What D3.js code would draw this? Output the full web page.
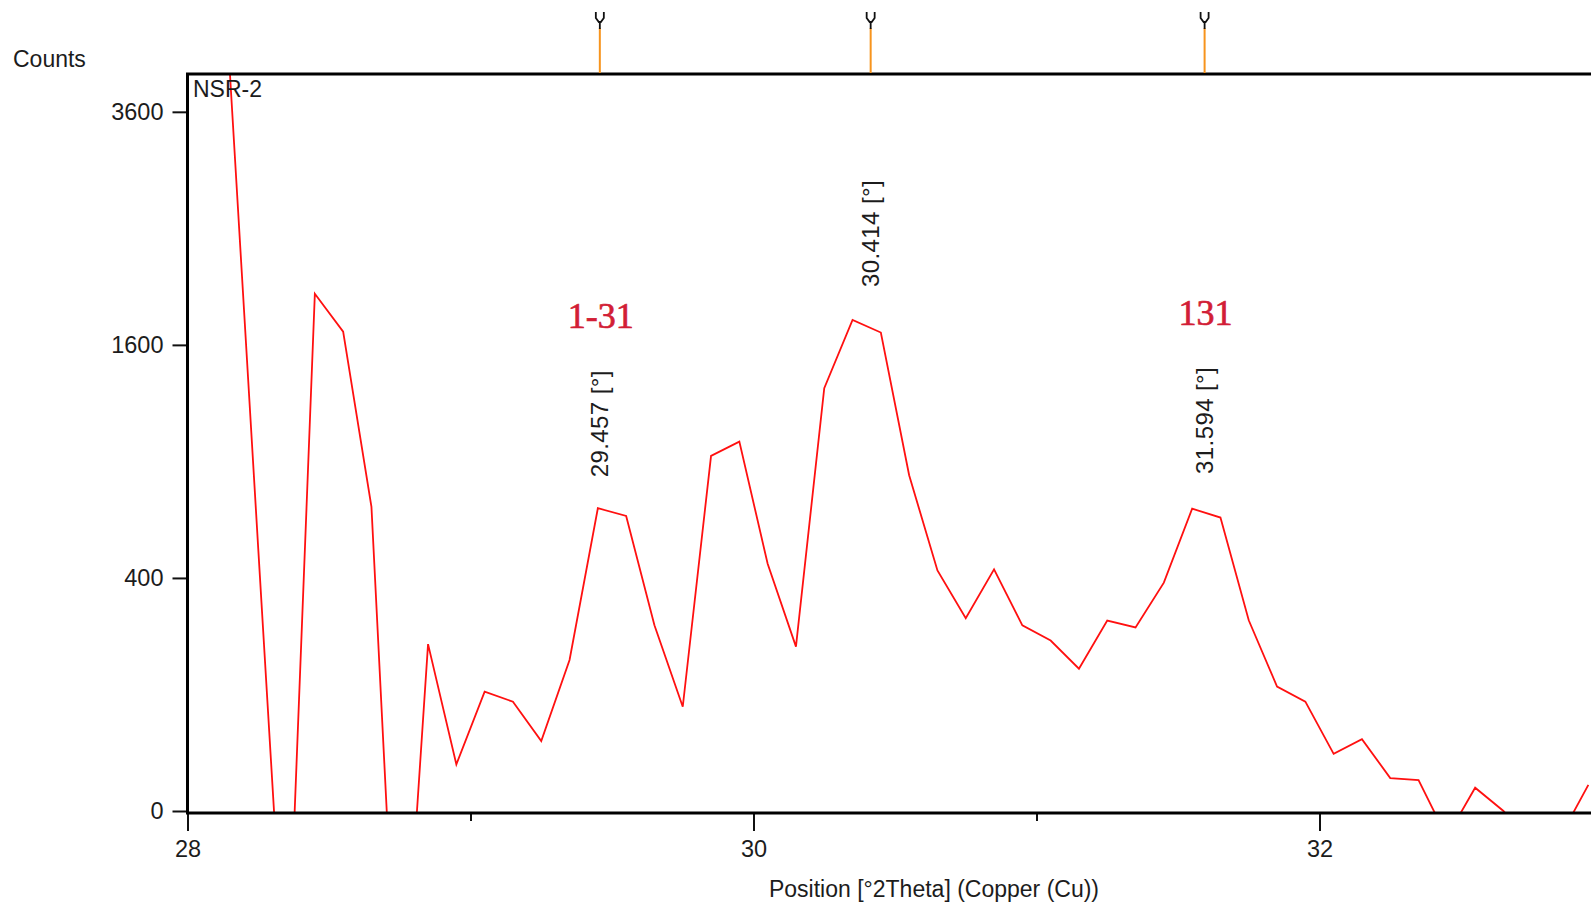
<!DOCTYPE html>
<html>
<head>
<meta charset="utf-8">
<script src="https://cdn.jsdelivr.net/npm/d3@7"></script>
<style>
  html, body { margin: 0; padding: 0; background: #fff; overflow: hidden; }
  svg { display: block; }
</style>
</head>
<body>
<svg id="chart" width="1591" height="905"></svg>
<script>
// Scan positions (°2θ) and background-corrected intensities
const twoTheta = [
  28.05, 28.15, 28.25, 28.35, 28.45, 28.55, 28.65, 28.75, 28.85, 28.95,
  29.05, 29.15, 29.25, 29.35, 29.45, 29.55, 29.65, 29.75, 29.85, 29.95,
  30.05, 30.15, 30.25, 30.35, 30.45, 30.55, 30.65, 30.75, 30.85, 30.95,
  31.05, 31.15, 31.25, 31.35, 31.45, 31.55, 31.65, 31.75, 31.85, 31.95,
  32.05, 32.15, 32.25, 32.35, 32.45, 32.55, 32.65, 32.75, 32.85, 32.95
];
const counts = [
  7800, 4000, 506, -321, 1970, 1692, 681, -494, 205, 16,
  105, 88, 36, 168, 675, 641, 254, 80, 929, 1005,
  450, 199, 1316, 1776, 1686, 830, 426, 274, 430, 254,
  214, 149, 267, 248, 384, 673, 634, 268, 114, 88,
  24, 38, 8, 7, -5, 4, 0, -8, -5, 5
];

// Axis ticks
const yTicks = [0, 400, 1600, 3600];
const xMajorTicks = [28, 30, 32];
const xMinorTicks = [29, 31, 33];

// Peak list
const peakPositions = [29.457, 30.414, 31.594];
const peakCounts = [675, 1790, 690];
const peakLabels = ["29.457 [°]", "30.414 [°]", "31.594 [°]"];

// Reflection indices written above two of the peaks
const hklLabels = ["1-31", "131"];
const hklPeakIndex = [0, 2];

const sampleName = "NSR-2";
const yTitle = "Counts";
const xTitle = "Position [°2Theta] (Copper (Cu))";

// ---- layout ----
const svg = d3.select("#chart");
const plotLeft = 187.5, plotTop = 74, plotBottom = 813, plotRight = 1602.5;
const sans = "'Liberation Sans', Arial, Helvetica, sans-serif";
const serif = "'Liberation Serif', 'Times New Roman', serif";
const textColor = "#1c1c1c";
const hklColor = "#d21e36";

const x = d3.scaleLinear().domain([28, 33]).range([plotLeft, plotRight]);
const y = d3.scaleSqrt().domain([0, 4000]).range([811, plotTop]);

// clip region for the pattern
svg.append("defs").append("clipPath").attr("id", "plotClip")
  .append("rect")
  .attr("x", plotLeft).attr("y", plotTop)
  .attr("width", plotRight - plotLeft).attr("height", plotBottom - plotTop);

// diffraction pattern
const pts = twoTheta.map((t, i) => [t, counts[i]]);
const line = d3.line().x(d => x(d[0])).y(d => y(d[1]));
svg.append("path")
  .datum(pts)
  .attr("clip-path", "url(#plotClip)")
  .attr("d", line)
  .attr("fill", "none")
  .attr("stroke", "#ff1010")
  .attr("stroke-width", 1.8)
  .attr("stroke-linejoin", "miter");

// y axis (square-root intensity)
const yAxis = svg.append("g")
  .attr("transform", `translate(${plotLeft},0)`)
  .call(d3.axisLeft(y).tickValues(yTicks).tickSize(15).tickPadding(9).tickFormat(d3.format("d")));
yAxis.select(".domain").remove();
yAxis.selectAll(".tick line").attr("stroke", "#111").attr("stroke-width", 2);
yAxis.selectAll(".tick text")
  .attr("font-family", sans).attr("font-size", 23.5).attr("fill", textColor);

// x axis: major ticks with labels, minor ticks without
const xMajor = svg.append("g")
  .attr("transform", `translate(0,${plotBottom})`)
  .call(d3.axisBottom(x).tickValues(xMajorTicks).tickSize(18).tickPadding(9).tickFormat(d3.format("d")));
xMajor.select(".domain").remove();
xMajor.selectAll(".tick line").attr("stroke", "#111").attr("stroke-width", 2);
xMajor.selectAll(".tick text")
  .attr("font-family", sans).attr("font-size", 23.5).attr("fill", textColor);

const xMinor = svg.append("g")
  .attr("transform", `translate(0,${plotBottom})`)
  .call(d3.axisBottom(x).tickValues(xMinorTicks).tickSize(8).tickFormat(""));
xMinor.select(".domain").remove();
xMinor.selectAll(".tick line").attr("stroke", "#111").attr("stroke-width", 2);

// frame: left, top and bottom edges
svg.append("path")
  .attr("d", `M${plotLeft},${plotBottom} L${plotLeft},${plotTop} L${plotRight + 10},${plotTop}`)
  .attr("fill", "none").attr("stroke", "#000").attr("stroke-width", 3);
svg.append("line")
  .attr("x1", plotLeft - 1.5).attr("x2", plotRight + 10)
  .attr("y1", plotBottom).attr("y2", plotBottom)
  .attr("stroke", "#000").attr("stroke-width", 3);

// peak markers above the frame
const markers = svg.append("g").selectAll("g")
  .data(peakPositions).join("g")
  .attr("transform", d => `translate(${x(d)},0)`);
markers.append("line")
  .attr("x1", 0).attr("x2", 0).attr("y1", 28).attr("y2", plotTop - 1)
  .attr("stroke", "#f7941d").attr("stroke-width", 2);
markers.append("path")
  .attr("d", "M-4,12 L-4,18 L-1,22 L1,22 L4,18 L4,12 M0,21 L0,29")
  .attr("fill", "none").attr("stroke", "#111").attr("stroke-width", 1.8);

// rotated peak position labels
const peakText = svg.append("g").selectAll("text")
  .data(peakPositions).join("text")
  .attr("transform", (d, i) => `translate(${x(d) + 8.5},${y(peakCounts[i]) - 31}) rotate(-90)`)
  .attr("font-family", sans).attr("font-size", 24).attr("letter-spacing", 0.4)
  .attr("fill", textColor)
  .text((d, i) => peakLabels[i]);

// reflection indices, centred on their peak and above its label
const labelLen = peakText.nodes().map(n => n.getComputedTextLength());
svg.append("g").selectAll("text")
  .data(hklLabels).join("text")
  .attr("x", (d, i) => x(peakPositions[hklPeakIndex[i]]) + 1)
  .attr("y", (d, i) => {
    const k = hklPeakIndex[i];
    return y(peakCounts[k]) - 31 - labelLen[k] - 42;
  })
  .attr("text-anchor", "middle")
  .attr("font-family", serif).attr("font-size", 36)
  .attr("fill", hklColor).attr("stroke", hklColor).attr("stroke-width", 0.7)
  .text(d => d);

// titles
svg.append("text")
  .attr("x", 13).attr("y", 67)
  .attr("font-family", sans).attr("font-size", 23).attr("fill", textColor)
  .text(yTitle);
svg.append("text")
  .attr("x", 193).attr("y", 97)
  .attr("font-family", sans).attr("font-size", 23).attr("fill", textColor)
  .text(sampleName);
svg.append("text")
  .attr("x", 934).attr("y", 897)
  .attr("text-anchor", "middle")
  .attr("font-family", sans).attr("font-size", 23).attr("fill", textColor)
  .text(xTitle);
</script>
</body>
</html>
